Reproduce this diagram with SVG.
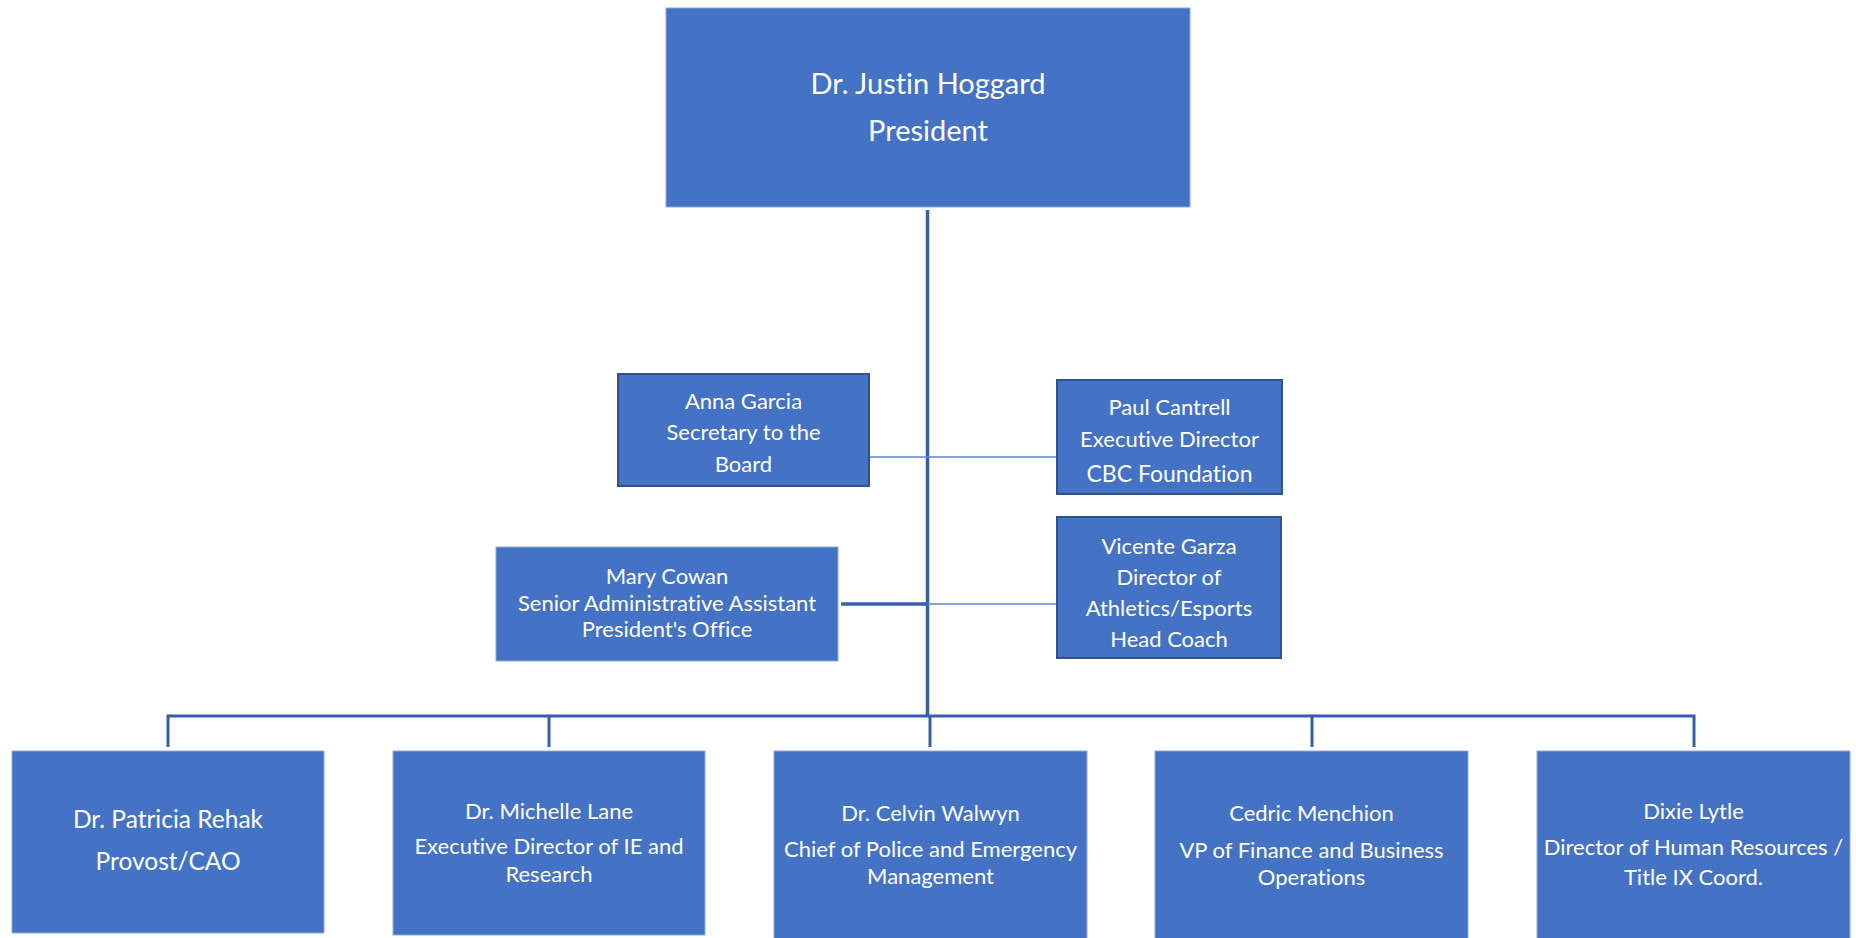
<svg xmlns="http://www.w3.org/2000/svg" width="1856" height="938" viewBox="0 0 1856 938">
<style>
  .box { fill: #4472C4; stroke: #8EA9DB; stroke-width: 1; }
  .boxb { fill: #4472C4; stroke: #2F528F; stroke-width: 2; }
  text { font-family: Lato, "Open Sans", sans-serif; fill: #FFFFFF; text-anchor: middle; font-variant-ligatures: none; }
  .t29 { font-size: 29px; }
  .t20 { font-size: 22px; }
  .t22 { font-size: 23px; }
  .t24 { font-size: 24.5px; }
  .trunk { stroke: #3560A8; stroke-width: 3.5; fill: none; }
  .bus { stroke: #3560A8; stroke-width: 3; fill: none; }
  .thin { stroke: #5B87CF; stroke-width: 1.5; fill: none; }
</style>
<rect width="1856" height="938" fill="#FFFFFF"/>
<g id="connectors">
  <line class="trunk" x1="927.5" y1="210" x2="927.5" y2="716"/>
  <line class="thin" x1="869" y1="457" x2="1057" y2="457"/>
  <line class="trunk" x1="841" y1="604" x2="927.5" y2="604"/>
  <line class="thin" x1="927.5" y1="604" x2="1057" y2="604"/>
  <path class="bus" d="M168 747 V716 H1694 V747"/>
  <line class="bus" x1="549" y1="716" x2="549" y2="747"/>
  <line class="bus" x1="930" y1="716" x2="930" y2="747"/>
  <line class="bus" x1="1312" y1="716" x2="1312" y2="747"/>
</g>
<g id="president">
  <rect class="box" x="666" y="8" width="524" height="199"/>
  <text class="t29" x="928" y="94">Dr. Justin Hoggard</text>
  <text class="t29" x="928" y="141">President</text>
</g>
<g id="anna-garcia">
  <rect class="boxb" x="618" y="374" width="251" height="112"/>
  <text class="t20" x="743.5" y="409">Anna Garcia</text>
  <text class="t20" x="743.5" y="440">Secretary to the</text>
  <text class="t20" x="743.5" y="472">Board</text>
</g>
<g id="paul-cantrell">
  <rect class="boxb" x="1057" y="380" width="225" height="114"/>
  <text class="t20" x="1169.5" y="415">Paul Cantrell</text>
  <text class="t20" x="1169.5" y="447">Executive Director</text>
  <text class="t22" x="1169.5" y="482">CBC Foundation</text>
</g>
<g id="mary-cowan">
  <rect class="box" x="496" y="547" width="342" height="114"/>
  <text class="t20" x="667" y="584">Mary Cowan</text>
  <text class="t20" x="667" y="611">Senior Administrative Assistant</text>
  <text class="t20" x="667" y="637">President's Office</text>
</g>
<g id="vicente-garza">
  <rect class="boxb" x="1057" y="517" width="224" height="141"/>
  <text class="t20" x="1169" y="554">Vicente Garza</text>
  <text class="t20" x="1169" y="585">Director of</text>
  <text class="t20" x="1169" y="616">Athletics/Esports</text>
  <text class="t20" x="1169" y="647">Head Coach</text>
</g>
<g id="patricia-rehak">
  <rect class="box" x="12" y="751" width="312" height="182"/>
  <text class="t24" x="168" y="828">Dr. Patricia Rehak</text>
  <text class="t24" x="168" y="870">Provost/CAO</text>
</g>
<g id="michelle-lane">
  <rect class="box" x="393" y="751" width="312" height="184"/>
  <text class="t20" x="549" y="819">Dr. Michelle Lane</text>
  <text class="t20" x="549" y="854">Executive Director of IE and</text>
  <text class="t20" x="549" y="882">Research</text>
</g>
<g id="celvin-walwyn">
  <rect class="box" x="774" y="751" width="313" height="192"/>
  <text class="t20" x="930.5" y="821">Dr. Celvin Walwyn</text>
  <text class="t20" x="930.5" y="857">Chief of Police and Emergency</text>
  <text class="t20" x="930.5" y="884">Management</text>
</g>
<g id="cedric-menchion">
  <rect class="box" x="1155" y="751" width="313" height="192"/>
  <text class="t20" x="1311.5" y="821">Cedric Menchion</text>
  <text class="t20" x="1311.5" y="858">VP of Finance and Business</text>
  <text class="t20" x="1311.5" y="885">Operations</text>
</g>
<g id="dixie-lytle">
  <rect class="box" x="1537" y="751" width="313" height="192"/>
  <text class="t20" x="1693.5" y="819">Dixie Lytle</text>
  <text class="t20" x="1693.5" y="855">Director of Human Resources /</text>
  <text class="t20" x="1693.5" y="885">Title IX Coord.</text>
</g>
</svg>
